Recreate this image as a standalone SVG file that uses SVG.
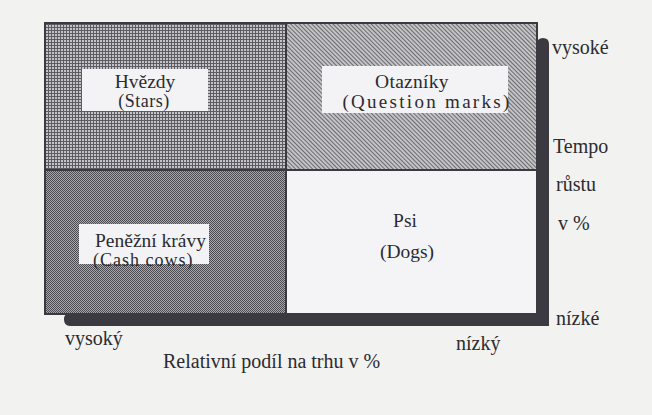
<svg xmlns="http://www.w3.org/2000/svg" width="652" height="415" viewBox="0 0 652 415">
  <defs>
    <style>
      text { font-family: "Liberation Serif", "Times New Roman", serif; fill: #2b2b31; }
      .q { font-size: 19.5px; text-anchor: middle; }
      .ax { font-size: 20px; }
      .lbl { fill: #f3f3f5; }
    </style>
    <pattern id="grid" width="3" height="3" patternUnits="userSpaceOnUse">
      <rect width="3" height="3" fill="#c4c4c8"/>
      <rect width="3" height="1" fill="#5c5c62"/>
      <rect width="1" height="3" fill="#5c5c62"/>
    </pattern>
    <pattern id="diag" width="3" height="3" patternUnits="userSpaceOnUse" patternTransform="rotate(45)">
      <rect width="3" height="3" fill="#c4c4c6"/>
      <rect width="3" height="1" fill="#6a6a70"/>
    </pattern>
    <pattern id="dots" width="2" height="2" patternUnits="userSpaceOnUse">
      <rect width="2" height="2" fill="#a8a8ac"/>
      <rect width="1" height="1" fill="#4a4a50"/>
      <rect x="1" y="1" width="1" height="1" fill="#4a4a50"/>
    </pattern>
  </defs>

  <rect width="652" height="415" fill="#f2f2f0"/>

  <g id="connectors">
    <path d="M537 44 Q537 38 543 38 Q549 38 549 44 L549 326 L70 326 Q64 326 64 319.5 Q64 313 70 313 L537 313 Z" fill="#3a3a40"/>
  </g>

  <g id="stars">
    <rect x="45" y="23" width="241" height="147" fill="url(#grid)"/>
    <rect class="lbl" x="82" y="69" width="126" height="42"/>
    <text class="q" x="145" y="87.5">Hvězdy</text>
    <text class="q" x="144" y="107" style="font-size:18px" letter-spacing="0.5">(Stars)</text>
  </g>

  <g id="question-marks">
    <rect x="286" y="23" width="251" height="147" fill="url(#diag)"/>
    <rect class="lbl" x="322" y="66" width="186" height="47"/>
    <text class="q" x="412" y="88" letter-spacing="0.3">Otazníky</text>
    <text class="q" x="427" y="108" style="font-size:19px" letter-spacing="2.3">(Question marks)</text>
  </g>

  <g id="cash-cows">
    <rect x="45" y="170" width="241" height="144" fill="url(#dots)"/>
    <rect class="lbl" x="79" y="224" width="130" height="40"/>
    <text x="95" y="247" style="font-size:19.5px">Peněžní krávy</text>
    <text x="93" y="266" style="font-size:18px" letter-spacing="1">(Cash cows)</text>
  </g>

  <g id="dogs">
    <rect x="286" y="170" width="251" height="144" fill="#f4f4f6"/>
    <text class="q" x="405" y="227">Psi</text>
    <text class="q" x="407" y="258">(Dogs)</text>
  </g>

  <g id="frame">
    <rect x="45" y="23" width="492" height="291" fill="none" stroke="#3a3a40" stroke-width="2"/>
    <line x1="286" y1="23" x2="286" y2="314" stroke="#3a3a40" stroke-width="2"/>
    <line x1="45" y1="170" x2="537" y2="170" stroke="#3a3a40" stroke-width="2"/>
  </g>

  <g id="axis-labels">
    <text class="ax" x="552" y="54">vysoké</text>
    <text class="ax" x="553" y="153">Tempo</text>
    <text class="ax" x="556" y="191">růstu</text>
    <text class="ax" x="558" y="230">v %</text>
    <text class="ax" x="556" y="325">nízké</text>
    <text class="ax" x="65" y="345">vysoký</text>
    <text class="ax" x="456" y="350">nízký</text>
    <text class="ax" x="163" y="368">Relativní podíl na trhu v %</text>
  </g>
</svg>
